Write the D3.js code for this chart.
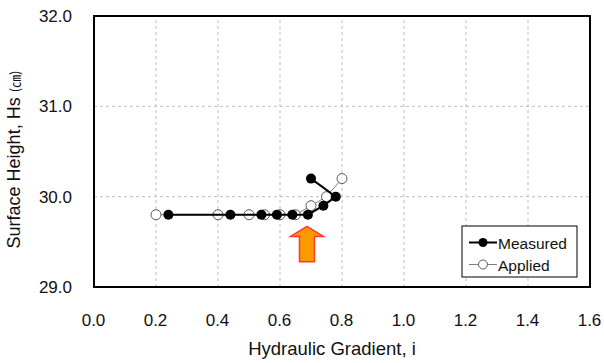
<!DOCTYPE html>
<html>
<head>
<meta charset="utf-8">
<script src="https://cdn.jsdelivr.net/npm/d3@7"></script>
<style>
  html, body { margin: 0; padding: 0; background: #fff; }
  svg { display: block; font-family: "Liberation Sans", Arial, sans-serif; }
</style>
</head>
<body>
<svg id="chart" width="604" height="363"></svg>
<script>
// Measured surface height vs. hydraulic gradient
const measuredI  = [0.24, 0.44, 0.54, 0.59, 0.64, 0.69, 0.74, 0.78, 0.70];
const measuredHs = [29.8, 29.8, 29.8, 29.8, 29.8, 29.8, 29.9, 30.0, 30.2];
// Applied gradient steps
const appliedI  = [0.20, 0.40, 0.50, 0.55, 0.60, 0.65, 0.70, 0.75, 0.80];
const appliedHs = [29.8, 29.8, 29.8, 29.8, 29.8, 29.8, 29.9, 30.0, 30.2];

const xTicks = [0.0, 0.2, 0.4, 0.6, 0.8, 1.0, 1.2, 1.4, 1.6];
const yTicks = [29.0, 30.0, 31.0, 32.0];
const seriesNames = ["Measured", "Applied"];

// Arrow annotation marking the onset (data coordinates)
const arrowI = 0.687;
const arrowTop = 29.67;
const arrowBottom = 29.28;

const svg = d3.select("#chart");
const m = { left: 94, right: 14, top: 16, bottom: 76 };
const W = 604, H = 363;
const x = d3.scaleLinear().domain([0, 1.6]).range([m.left, W - m.right]);
const y = d3.scaleLinear().domain([29, 32]).range([H - m.bottom, m.top]);

// grid
const grid = svg.append("g")
  .attr("stroke", "#bfbfbf").attr("stroke-width", 1).attr("stroke-dasharray", "3,3");
xTicks.slice(1, -1).forEach(t => {
  grid.append("line").attr("x1", x(t)).attr("x2", x(t)).attr("y1", y(29)).attr("y2", y(32));
});
yTicks.slice(1, -1).forEach(t => {
  grid.append("line").attr("x1", x(0)).attr("x2", x(1.6)).attr("y1", y(t)).attr("y2", y(t));
});

// axes (labels only, frame drawn separately)
const xAxis = svg.append("g").attr("transform", `translate(0,${y(29)})`)
  .call(d3.axisBottom(x).tickValues(xTicks).tickFormat(d3.format(".1f")).tickSize(0).tickPadding(27));
const yAxis = svg.append("g").attr("transform", `translate(${x(0)},0)`)
  .call(d3.axisLeft(y).tickValues(yTicks).tickFormat(d3.format(".1f")).tickSize(0).tickPadding(22));
[xAxis, yAxis].forEach(a => {
  a.select(".domain").remove();
  a.selectAll("text").attr("font-size", 17).attr("fill", "#111")
    .attr("font-family", "'Liberation Sans', Arial, sans-serif");
});
xAxis.selectAll("text").attr("dx", -1);

// frame
svg.append("rect").attr("x", x(0)).attr("y", y(32))
  .attr("width", x(1.6) - x(0)).attr("height", y(29) - y(32))
  .attr("fill", "none").attr("stroke", "#000").attr("stroke-width", 2);

// axis titles
svg.append("text").attr("x", 332).attr("y", 355)
  .attr("text-anchor", "middle").attr("font-size", 18.5).attr("fill", "#111")
  .text("Hydraulic Gradient, i");
const yt = svg.append("text").attr("transform", `translate(20,${(y(29) + y(32)) / 2 + 8}) rotate(-90)`)
  .attr("text-anchor", "middle").attr("font-size", 18).attr("fill", "#111");
yt.append("tspan").text("Surface Height, Hs ");
yt.append("tspan").attr("font-size", 13).attr("font-family", "'Noto Sans CJK JP', sans-serif").text("(㎝)");

const line = d3.line().x(d => x(d[0])).y(d => y(d[1]));
const applied = appliedI.map((v, i) => [v, appliedHs[i]]);
const measured = measuredI.map((v, i) => [v, measuredHs[i]]);

// applied series
svg.append("path").datum(applied).attr("d", line)
  .attr("fill", "none").attr("stroke", "#7f7f7f").attr("stroke-width", 1);
svg.append("g").selectAll("circle").data(applied).join("circle")
  .attr("cx", d => x(d[0])).attr("cy", d => y(d[1])).attr("r", 5)
  .attr("fill", "#fff").attr("stroke", "#595959").attr("stroke-width", 1);

// measured series
svg.append("path").datum(measured).attr("d", line)
  .attr("fill", "none").attr("stroke", "#000").attr("stroke-width", 2);
svg.append("g").selectAll("circle").data(measured).join("circle")
  .attr("cx", d => x(d[0])).attr("cy", d => y(d[1])).attr("r", 5)
  .attr("fill", "#000");

// arrow
const ax = x(arrowI), aTop = y(arrowTop), aBot = y(arrowBottom);
const headW = 16.5, shaftW = 7.5, headH = 10;
const arrowPts = [
  [ax, aTop], [ax + headW, aTop + headH], [ax + shaftW, aTop + headH],
  [ax + shaftW, aBot], [ax - shaftW, aBot], [ax - shaftW, aTop + headH],
  [ax - headW, aTop + headH]
];
svg.append("path").attr("d", "M" + arrowPts.join("L") + "Z")
  .attr("fill", "#ff9900").attr("stroke", "#ff3b2f").attr("stroke-width", 1.5)
  .attr("stroke-linejoin", "miter");

// legend
const lg = svg.append("g").attr("transform", "translate(462,226)");
lg.append("rect").attr("width", 115).attr("height", 51)
  .attr("fill", "#fff").attr("stroke", "#000").attr("stroke-width", 1);
seriesNames.forEach((name, i) => {
  const ly = 16.5 + i * 22;
  const row = lg.append("g").attr("transform", `translate(0,${ly})`);
  row.append("line").attr("x1", 7).attr("x2", 35).attr("y1", 0).attr("y2", 0)
    .attr("stroke", i === 0 ? "#000" : "#7f7f7f").attr("stroke-width", i === 0 ? 2 : 1);
  row.append("circle").attr("cx", 21).attr("cy", 0).attr("r", 4.5)
    .attr("fill", i === 0 ? "#000" : "#fff").attr("stroke", i === 0 ? "none" : "#595959");
  row.append("text").attr("x", 36).attr("y", 6).attr("font-size", 15.5).attr("fill", "#111").text(name);
});
</script>
</body>
</html>
